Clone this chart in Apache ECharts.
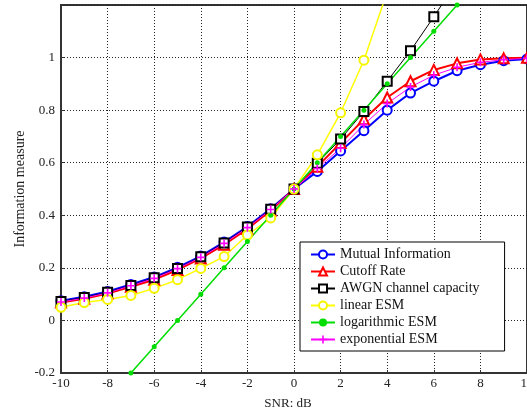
<!DOCTYPE html>
<html>
<head>
<meta charset="utf-8">
<script src="https://cdn.jsdelivr.net/npm/echarts@6/dist/echarts.min.js"></script>
<style>
html,body{margin:0;padding:0;background:#fff;}
#chart{width:527px;height:412px;}
</style>
</head>
<body>
<div id="chart"></div>
<script>
var snr = [-10,-9,-8,-7,-6,-5,-4,-3,-2,-1,0,1,2,3,4,5,6,7,8,9,10];
var mutualInfo = [0.075,0.09,0.11,0.137,0.165,0.202,0.245,0.298,0.357,0.425,0.5,0.567,0.645,0.722,0.80,0.865,0.91,0.95,0.973,0.988,0.995];
var cutoffRate = [0.068,0.082,0.102,0.128,0.155,0.192,0.236,0.288,0.348,0.418,0.5,0.585,0.675,0.765,0.848,0.91,0.953,0.978,0.993,0.997,0.999];
var awgnCapacity = [0.072,0.087,0.107,0.133,0.162,0.198,0.242,0.295,0.355,0.423,0.5,0.598,0.69,0.795,0.91,1.026,1.155,1.29,null,null,null];
var linearESM = [0.05,0.068,0.08,0.095,0.122,0.155,0.198,0.243,0.325,0.39,0.5,0.63,0.79,0.99,1.25,null,null,null,null,null,null];
var logESM = [null,null,null,-0.2,-0.1,0,0.1,0.2,0.3,0.4,0.5,0.6,0.7,0.8,0.9,1.0,1.1,1.2,null,null,null];
var expESM = [0.07,0.085,0.105,0.132,0.16,0.197,0.24,0.293,0.353,0.422,0.5,0.578,0.655,0.745,0.825,0.888,0.933,0.963,0.982,0.992,0.997];
var xTicks = [-10,-8,-6,-4,-2,0,2,4,6,8,10];
var yTicks = [-0.2,0,0.2,0.4,0.6,0.8,1];

function pairs(arr){ return snr.map(function(x,i){ return [x, arr[i]]; }); }

var font = "'Liberation Serif','Times New Roman',serif";
var chart = echarts.init(document.getElementById('chart'), null, {renderer:'canvas'});
var plusPath = 'path://M4,0H6V4H10V6H6V10H4V6H0V4H4Z';

chart.setOption({
  animation:false,
  backgroundColor:'#fff',
  grid:{left:61, top:5, right:0, bottom:39, containLabel:false, outerBoundsMode:'none',
        show:true, borderColor:'#333', borderWidth:2, backgroundColor:'transparent'},
  legend:{
    orient:'vertical', left:300, top:242,
    backgroundColor:'#fff', borderColor:'#000', borderWidth:1, borderRadius:0,
    padding:[5,25,4,10], itemWidth:24, itemHeight:10, itemGap:2, itemTextGap:10,
    textStyle:{fontFamily:font, fontSize:14, color:'#111', lineHeight:15},
    data:['Mutual Information','Cutoff Rate','AWGN channel capacity','linear ESM','logarithmic ESM','exponential ESM']
  },
  xAxis:{
    type:'value', min:-10, max:10, interval:2,
    name:'SNR: dB', nameLocation:'middle', nameGap:24,
    nameTextStyle:{fontFamily:font, fontSize:13, color:'#222', padding:[0,12,0,0]},
    axisLine:{show:true, onZero:false, lineStyle:{color:'#333', width:2}},
    axisTick:{show:true, inside:true, length:3, lineStyle:{color:'#333', width:1}},
    axisLabel:{fontFamily:font, fontSize:13, color:'#222', margin:4,
      formatter:function(v){ return xTicks.indexOf(Math.round(v))>=0 ? String(Math.round(v)) : ''; }},
    splitLine:{show:true, lineStyle:{color:'#222', width:1, type:[1,2]}}
  },
  yAxis:{
    type:'value', min:-0.2, max:1.2, interval:0.2,
    name:'Information measure', nameLocation:'middle', nameGap:34, nameMoveOverlap:false,
    nameTextStyle:{fontFamily:font, fontSize:14, color:'#222'},
    axisLine:{show:true, onZero:false, lineStyle:{color:'#333', width:2}},
    axisTick:{show:true, inside:true, length:3, lineStyle:{color:'#333', width:1}},
    axisLabel:{fontFamily:font, fontSize:13, color:'#222', margin:6,
      formatter:function(v){
        var r = Math.round(v*10)/10;
        for (var i=0;i<yTicks.length;i++){ if (Math.abs(yTicks[i]-r)<1e-6) return String(yTicks[i]); }
        return '';
      }},
    splitLine:{show:true, lineStyle:{color:'#222', width:1, type:[1,2]}}
  },
  series:[
    {name:'Mutual Information', type:'line', data:pairs(mutualInfo), symbol:'emptyCircle', symbolSize:9,
     lineStyle:{color:'#0000ff', width:2}, itemStyle:{color:'#0000ff', borderWidth:1.5}, clip:true},
    {name:'Cutoff Rate', type:'line', data:pairs(cutoffRate), symbol:'emptyTriangle', symbolSize:10,
     lineStyle:{color:'#ff0000', width:2}, itemStyle:{color:'#ff0000', borderWidth:1.5}, clip:true},
    {name:'AWGN channel capacity', type:'line', data:pairs(awgnCapacity), symbol:'emptyRect', symbolSize:9,
     lineStyle:{color:'#000', width:1}, itemStyle:{color:'#000', borderWidth:1.2}, clip:true},
    {name:'linear ESM', type:'line', data:pairs(linearESM), symbol:'emptyCircle', symbolSize:9,
     lineStyle:{color:'#ffff00', width:1.5}, itemStyle:{color:'#f5f500', borderWidth:2}, clip:true},
    {name:'logarithmic ESM', type:'line', data:pairs(logESM), symbol:'circle', symbolSize:5,
     lineStyle:{color:'#00dd00', width:1.5}, itemStyle:{color:'#00dd00'}, clip:true},
    {name:'exponential ESM', type:'line', data:pairs(expESM), symbol:plusPath, symbolSize:8,
     lineStyle:{color:'#ff00ff', width:1}, itemStyle:{color:'#ff00ff'}, clip:true}
  ]
});
</script>
</body>
</html>
